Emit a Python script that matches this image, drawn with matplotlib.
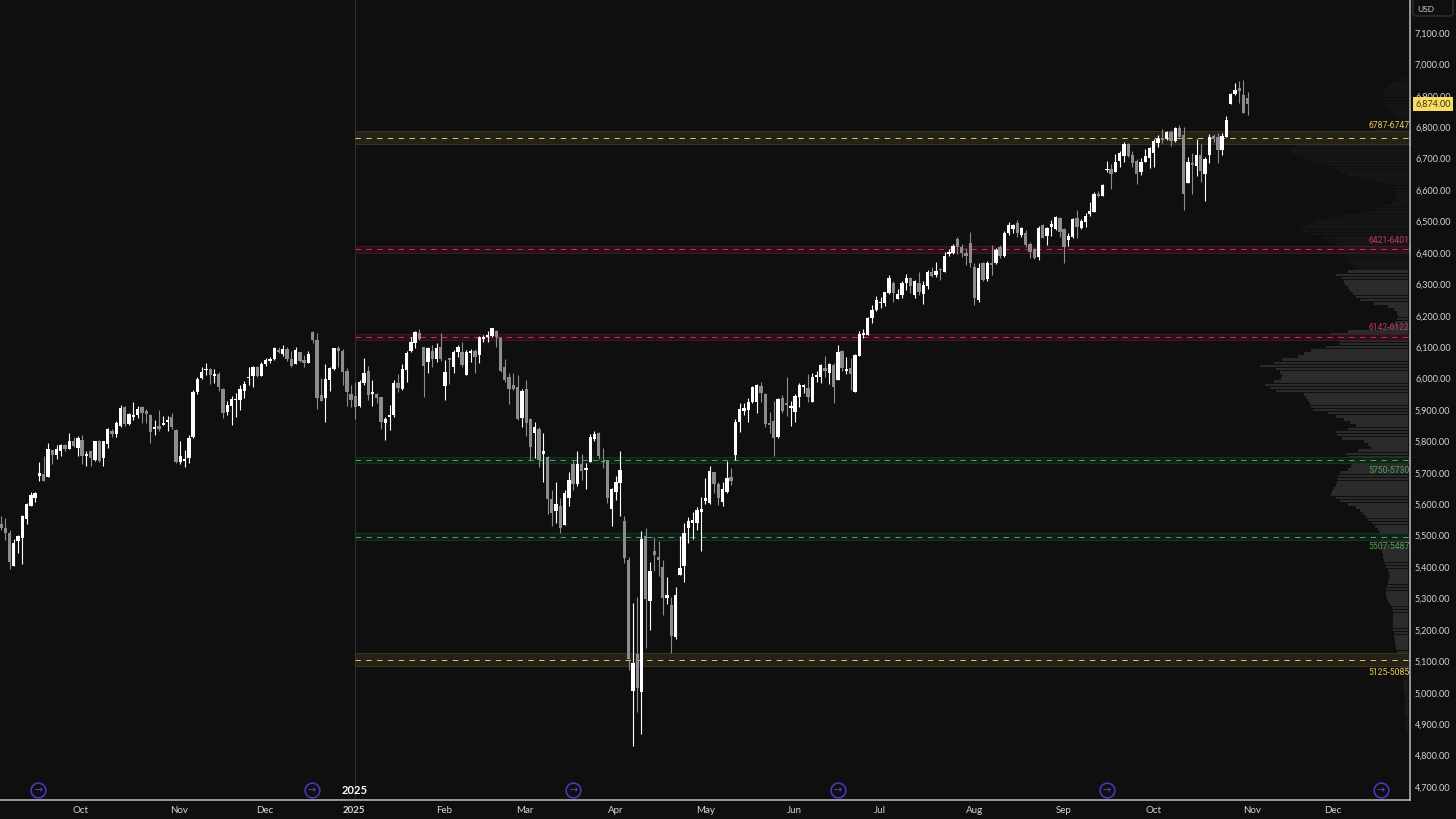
import numpy as np
import matplotlib
matplotlib.use("Agg")
import matplotlib.pyplot as plt
from matplotlib.patches import FancyBboxPatch
from matplotlib.transforms import IdentityTransform, blended_transform_factory

# daily candles
opens = [
    5537,5525,5510,5405,5483,5494,5553,5595,5619,5689,
    5696,5688,5772,5756,5769,5789,5777,5802,5779,5805,
    5755,5768,5741,5802,5748,5792,5834,5823,5849,5911,
    5856,5878,5884,5909,5898,5884,5840,5849,5853,5862,
    5879,5837,5736,5739,5747,5813,5957,6001,6026,6030,
    6008,6015,5967,5894,5913,5931,5932,5961,6001,6009,
    6038,6009,6045,6057,6061,6091,6079,6093,6063,6046,
    6083,6060,6049,6147,6123,5947,5939,5996,6031,6098,
    6089,6023,5951,
    5945,5914,5987,6025,5951,5951,5940,5860,5879,5885,
    5987,5966,6027,6087,6114,6146,6100,6054,6089,6063,
    6102,5977,6063,6038,6085,6085,6011,6082,6089,6075,
    6127,6133,6135,6151,6128,6038,6004,5979,5974,5876,
    5966,5870,5828,5841,5760,5749,5618,5577,5594,5534,
    5621,5728,5664,5728,5709,5734,5807,5826,5736,5738,
    5585,5640,5667,
    5548,5421,5004,5123,5001,5499,5293,5451,5431,5401,5302,5279,5176,5375,5404,5523,5539,5539,5576,
    5611,5603,5702,5664,5607,5638,5686,
    5757,5862,5898,5900,5927,5926,5976,5950,5855,5866,
    5815,5938,5921,5907,5893,5942,5974,5970,5927,6005,
    6006,6033,6017,6043,5996,6089,6023,6035,5958,6072,
    6140,6139,6193,6218,6240,6242,6271,6303,6254,6266,
    6303,6319,6266,6305,6268,6295,6340,6330,6346,6340,
    6397,6401,6443,6420,6401,6431,6354,6250,6367,6316,
    6367,6367,6418,6390,
    6462,6475,6494,6457,6464,6427,6411,6386,
    6489,6454,6481,6476,6512,6475,6441,6451,6510,6478,
    6499,6523,6530,6589,6581,6663,6666,6657,6692,6709,
    6746,6713,6693,6656,6690,6703,6717,6750,6763,6761,
    6784,6756,6799,6774,6624,6685,6676,6711,6651,6713,
    6773,6770,6727,6770,6874,6907,6924,6902,6892,
]
highs = [
    5561,5556,5518,5489,5502,5565,5603,5638,5638,5735,
    5754,5794,5773,5789,5791,5792,5826,5815,5818,5820,
    5771,5769,5802,5803,5802,5842,5839,5865,5916,5913,
    5890,5925,5913,5913,5902,5888,5869,5900,5881,5881,
    5890,5839,5800,5773,5820,5964,6006,6036,6049,6033,
    6030,6022,5969,5930,5945,5953,5980,5991,6036,6040,
    6040,6054,6065,6068,6102,6102,6108,6100,6089,6099,
    6085,6075,6087,6150,6144,6002,6047,6038,6098,6104,
    6093,6033,5980,
    5990,5994,6065,6040,5995,5955,5942,5879,5916,5995,
    6015,6046,6089,6131,6150,6157,6102,6102,6107,6112,
    6144,6059,6067,6091,6108,6118,6091,6093,6093,6135,
    6140,6151,6162,6155,6131,6063,6019,6019,6011,5966,
    5995,5873,5863,5847,5826,5754,5645,5672,5619,5645,
    5704,5741,5769,5760,5730,5823,5832,5829,5778,5741,
    5653,5690,5771,
    5563,5431,5285,5304,5516,5523,5416,5497,5484,5422,5367,5304,5337,5499,5539,5558,5575,5592,5624,
    5683,5723,5704,5670,5670,5738,5715,
    5870,5923,5921,5937,5976,5983,5990,5953,5895,5930,
    5937,5949,6004,5930,5951,5987,5983,6013,6019,6023,
    6046,6072,6051,6049,6107,6091,6068,6067,6078,6150,
    6157,6195,6234,6263,6259,6277,6330,6309,6284,6312,
    6333,6324,6314,6339,6309,6344,6354,6370,6351,6402,
    6411,6428,6452,6428,6415,6465,6367,6367,6372,6374,
    6425,6415,6425,6471,
    6499,6492,6505,6483,6473,6436,6415,6486,
    6492,6483,6505,6518,6515,6478,6462,6510,6536,6507,
    6526,6563,6595,6598,6618,6693,6683,6715,6725,6753,
    6751,6725,6698,6701,6731,6736,6761,6775,6793,6788,
    6791,6802,6807,6800,6704,6717,6761,6746,6706,6777,
    6780,6783,6783,6836,6910,6940,6947,6950,6913,
]
lows = [
    5518,5487,5393,5404,5446,5410,5537,5593,5608,5675,
    5674,5687,5728,5743,5752,5768,5775,5782,5752,5728,
    5722,5722,5739,5735,5722,5778,5813,5813,5847,5849,
    5853,5869,5873,5860,5860,5796,5820,5834,5852,5834,
    5839,5731,5728,5720,5731,5812,5950,5999,6012,5983,
    5985,5962,5874,5884,5853,5877,5900,5937,5978,5973,
    6006,6008,6040,6049,6060,6081,6072,6057,6038,6045,
    6053,6038,6048,6113,5904,5929,5863,5962,6028,6038,
    5980,5913,5911,
    5870,5909,5979,5932,5913,5923,5841,5804,5836,5878,
    5958,5964,5990,6085,6096,6123,5942,6019,6038,6054,
    6057,5932,5983,6017,6068,6038,6010,6054,6017,6048,
    6116,6116,6133,6100,6022,5990,5919,5964,5868,5845,
    5817,5741,5746,5718,5670,5569,5531,5541,5508,5533,
    5594,5645,5658,5677,5647,5733,5802,5745,5714,5603,
    5531,5614,5561,
    5412,5073,4831,4940,4869,5143,5201,5389,5371,5247,5282,5125,5170,5374,5352,5478,5488,5518,5452,
    5600,5600,5635,5598,5593,5635,5662,
    5741,5831,5884,5863,5921,5889,5927,5845,5826,5754,
    5810,5889,5881,5849,5863,5909,5955,5926,5926,5989,
    5987,6006,5983,5923,5994,6023,6015,5964,5957,6071,
    6128,6138,6178,6216,6224,6231,6268,6245,6252,6255,
    6282,6271,6255,6266,6237,6284,6324,6324,6314,6339,
    6390,6397,6397,6388,6362,6354,6234,6245,6311,6312,
    6330,6365,6383,6388,
    6457,6464,6452,6452,6420,6383,6380,6377,
    6446,6425,6455,6473,6451,6367,6422,6449,6446,6477,
    6483,6519,6529,6577,6580,6658,6605,6656,6674,6690,
    6704,6672,6619,6648,6689,6669,6674,6736,6751,6759,
    6740,6754,6768,6536,6623,6587,6645,6627,6566,6687,
    6754,6685,6713,6769,6873,6903,6878,6844,6838,
]
closes = [
    5525,5508,5415,5478,5500,5561,5601,5628,5635,5698,
    5675,5776,5758,5775,5789,5775,5802,5784,5812,5755,
    5757,5747,5800,5739,5800,5840,5825,5857,5905,5856,
    5886,5884,5902,5892,5887,5831,5845,5841,5858,5869,
    5847,5734,5754,5742,5810,5957,5998,6022,6031,6010,
    6013,5973,5891,5917,5935,5935,5967,5984,6005,6037,
    6009,6047,6060,6062,6096,6083,6095,6062,6041,6091,
    6055,6049,6078,6123,5937,5930,5999,6035,6096,6089,
    6022,5956,5932,
    5911,5988,6019,5949,5957,5938,5862,5872,5883,5987,
    5969,6030,6082,6118,6148,6125,6041,6096,6061,6097,
    6061,6020,6059,6085,6102,6043,6085,6089,6068,6131,
    6129,6140,6160,6133,6024,5995,5966,5966,5870,5961,
    5857,5783,5847,5741,5771,5618,5573,5601,5523,5637,
    5677,5664,5728,5707,5715,5814,5822,5754,5733,5619,
    5649,5670,5709,
    5428,5108,5096,5016,5488,5297,5389,5437,5422,5300,5311,5180,5311,5397,5509,5548,5550,5582,5585,
    5621,5706,5664,5621,5649,5683,5674,
    5863,5902,5906,5927,5972,5980,5955,5854,5852,5812,
    5934,5898,5917,5911,5946,5980,5978,5942,6004,6008,
    6043,6024,6046,5974,6085,6033,6030,6014,6075,6142,
    6146,6193,6218,6250,6244,6274,6321,6271,6269,6305,
    6321,6295,6309,6277,6298,6338,6327,6341,6344,6391,
    6399,6422,6418,6401,6390,6369,6255,6353,6314,6369,
    6362,6409,6390,6464,
    6489,6489,6462,6478,6425,6404,6383,6480,
    6448,6479,6493,6515,6465,6420,6454,6508,6481,6502,
    6517,6534,6589,6581,6615,6667,6651,6688,6719,6748,
    6708,6686,6651,6690,6708,6734,6757,6761,6760,6784,
    6755,6798,6770,6587,6690,6680,6711,6662,6698,6770,
    6761,6727,6773,6823,6905,6918,6915,6846,6874,
]

# volume profile, one value per 10 point level, going down from 6950
profile_top = 6950
profile = [
    8,15,20,22,24,25,25,24,22,18,15,12,10,10,12,20,35,60,80,95,
    105,112,118,116,110,104,95,86,78,68,60,50,38,22,13,12,11,12,13,15,
    22,32,45,62,80,92,100,106,108,98,84,75,72,70,68,65,63,60,58,54,
    52,60,72,66,64,63,60,58,55,52,48,34,20,14,11,10,11,13,16,22,
    60,78,70,68,68,82,97,104,110,126,134,148,132,128,126,127,134,143,138,132,
    104,102,100,98,97,95,80,72,64,58,52,60,72,71,66,44,40,37,50,62,
    60,58,56,57,60,68,70,71,71,72,74,76,77,72,68,60,52,48,45,42,
    40,36,33,30,28,27,27,28,28,27,26,25,25,24,23,22,20,19,18,19,
    20,21,22,22,22,21,20,18,16,15,15,15,15,15,15,15,14,14,13,13,
    12,12,11,9,8,8,7,7,6,6,5,5,5,4,4,4,4,3,3,3,
    3,3,3,2,2,2,1,1,
]

# zones: (high, low)
zone_levels = [(6787, 6747), (6421, 6401), (6142, 6122), (5750, 5730), (5507, 5487), (5125, 5085)]
zone_labels = ["6787-6747", "6421-6401", "6142-6122", "5750-5730", "5507-5487", "5125-5085"]
zone_label_y = [6804, 6438, 6161, 5706, 5464, 5063]
zone_kinds = ["gold", "red", "red", "green", "green", "gold"]

price_ticks = list(range(4700, 7200, 100))
month_names = ["Oct", "Nov", "Dec", "2025", "Feb", "Mar", "Apr", "May", "Jun", "Jul", "Aug", "Sep", "Oct", "Nov", "Dec"]
month_pos = [18.7, 41.7, 61.8, 82.7, 103.7, 122.7, 144, 164.9, 185.7, 205.9, 227.9, 248.9, 270, 293, 311.9]
first_month = "Sep"
first_month_pos = -1.9
badge_pos = [8.7, 72.8, 134, 196, 259, 323.2]
year_start = 82.9
last_price = 6874

BG = "#0f0f0f"
UP = "#ffffff"
DOWN = "#8c8c8c"
zone_fill = {"gold": "#282418", "red": "#2e121b", "green": "#10231a"}
zone_edge = {"gold": "#3c3724", "red": "#421a27", "green": "#1a3522"}
zone_dash = {"gold": "#d9c264", "red": "#c42f58", "green": "#4f9f5a"}
zone_text = {"gold": "#e8c95a", "red": "#c8385a", "green": "#4aa552"}

fig = plt.figure(figsize=(14.56, 8.19), dpi=100, facecolor=BG)
ax = fig.add_axes([0, 19 / 819, 1410 / 1456, 800 / 819])
ax.patch.set_visible(False)
ax.set_zorder(2)

# profile sits behind on its own x scale
ax2 = ax.twiny()
ax2.set_zorder(1)
ax2.set_xlim(1408, -2)
ax2.axis("off")
levels = profile_top - 10 * np.arange(len(profile))
colors = ["#151515" if p > 6345 else ("#1b1b1b" if p < 5080 else "#2b2b2b") for p in levels]
ax2.barh(levels, profile, height=8.5, color=colors, linewidth=0)

# year separator
ax.axvline(year_start, color="#2e2e2e", lw=0.8, zorder=1)

# zones
for (hi, lo), kind in zip(zone_levels, zone_kinds):
    ax.fill_between([year_start, 330], lo, hi, facecolor=zone_fill[kind], edgecolor=zone_edge[kind], lw=0.7, zorder=1.5, alpha=0.9)
    ax.hlines((hi + lo) / 2, year_start, 330, color=zone_dash[kind], lw=0.72, linestyles=(0, (5.4, 5.4)), zorder=1.6)
for text, y, kind in zip(zone_labels, zone_label_y, zone_kinds):
    ax.text(329.9, y, text, ha="right", va="center", color=zone_text[kind], fontsize=6.2,
            family=["Liberation Sans Narrow", "Roboto"], zorder=5)

# candles
o = np.array(opens)
c = np.array(closes)
h = np.array(highs)
l = np.array(lows)
x = np.arange(len(o))
up = c >= o
for mask, col in ((~up, DOWN), (up, UP)):
    ax.vlines(x[mask], l[mask], h[mask], color=col, lw=0.8, zorder=3)
    ax.bar(x[mask], np.maximum(np.abs(c[mask] - o[mask]), 5), bottom=np.minimum(o[mask], c[mask]),
           width=0.78, color=col, linewidth=0, zorder=3.2)

# axes frame and ticks
for s in ("top", "left"):
    ax.spines[s].set_visible(False)
for s in ("right", "bottom"):
    ax.spines[s].set_color("#bdbdbd")
    ax.spines[s].set_linewidth(1.1)
ax.yaxis.tick_right()
ax.set_yticks(price_ticks)
ax.set_yticklabels([f"{p:,.2f}" for p in price_ticks], family="Lato", fontsize=6.5, color="#d6d6d6")
ax.set_xticks(month_pos)
ax.set_xticklabels(month_names, family="Lato", fontsize=7, color="#d6d6d6")
ax.tick_params(axis="both", length=0)
ax.tick_params(axis="y", pad=3.6)
ax.tick_params(axis="x", pad=4)
for lab, name in zip(ax.get_xticklabels(), month_names):
    if name == "2025":
        lab.set_fontweight("bold")

# limits last, set_xticks widens them otherwise
ax.set_xlim(-0.234, 330)
ax.set_ylim(4658.6, 7205)

# month that runs off the left edge, as in the screenshot
ax.text(first_month_pos, -0.0115, first_month, transform=ax.get_xaxis_transform(), ha="center", va="center",
        family="Lato", fontsize=7, color="#d6d6d6", clip_on=False)

# replay badges along the bottom
ax.plot(badge_pos, [4690] * len(badge_pos), ls="none", marker="o", ms=10.6, mfc="none", mec="#5036c4", mew=1.1, zorder=4)
for bx in badge_pos:
    ax.text(bx, 4689, "\u2192", ha="center", va="center", color="#6146d8", fontsize=7, family="DejaVu Sans", zorder=4)
ax.text(year_start - 0.1, 4688, "2025", ha="center", va="center", color="#ffffff", fontsize=8,
        family="Lato", fontweight="bold", zorder=4)

# last price tag
trans = blended_transform_factory(ax.transAxes, ax.transData)
ax.text(1.0038, last_price, f"{last_price:,.2f}", transform=trans, ha="left", va="center", fontsize=6.5, family="Lato",
        color="#3a3214", clip_on=False, zorder=6,
        bbox=dict(boxstyle="square,pad=0.28", facecolor="#f8dc63", edgecolor="none"))

# currency box
box = FancyBboxPatch((1413, 803), 40, 18, boxstyle="round,pad=0,rounding_size=3", transform=IdentityTransform(),
                     facecolor=BG, edgecolor="#343434", lw=0.9)
fig.add_artist(box)
fig.text(1426 / 1456, 1 - 9 / 819, "USD", ha="center", va="center", color="#cfcfcf", fontsize=6, family="Lato")

fig.savefig("out.png", dpi=100, facecolor=BG)
